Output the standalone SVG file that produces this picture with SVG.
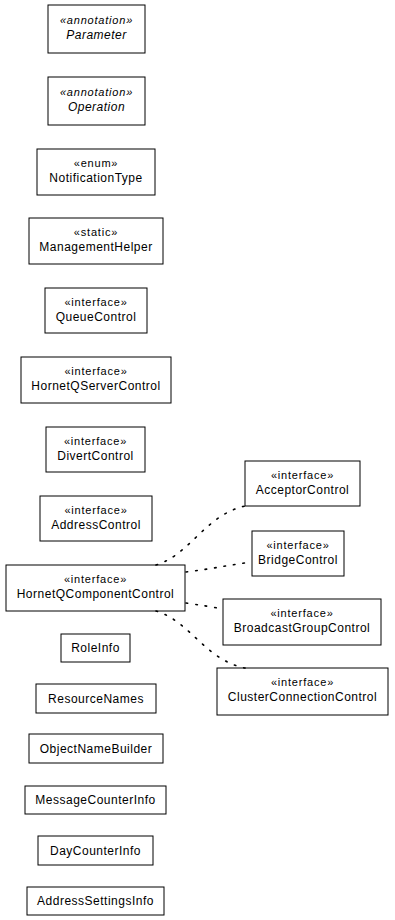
<svg xmlns="http://www.w3.org/2000/svg" width="395" height="920" viewBox="0 0 395 920">
<style>
rect{fill:#fff;stroke:#000;stroke-width:1}
text{font-family:"Liberation Sans",Arial,Helvetica,sans-serif;fill:#000;text-anchor:middle}
.n{font-size:12px;letter-spacing:0.5px}
.s{font-size:11px;letter-spacing:0.8px}
.i{font-style:italic}
.c path{fill:none;stroke:#000;stroke-width:1.6;stroke-dasharray:1.6,8;stroke-linecap:round}
</style>
<rect x="0" y="0" width="395" height="920" style="stroke:none"/>
<g id="Parameter"><rect x="48" y="5" width="97" height="48"/><text class="s i" x="96.5" y="24">«annotation»</text><text class="n i" x="96.5" y="39">Parameter</text></g>
<g id="Operation"><rect x="48" y="77" width="97" height="48"/><text class="s i" x="96.5" y="96">«annotation»</text><text class="n i" x="96.5" y="111">Operation</text></g>
<g id="NotificationType"><rect x="37" y="149" width="118" height="46"/><text class="s" x="96" y="167">«enum»</text><text class="n" x="96" y="182">NotificationType</text></g>
<g id="ManagementHelper"><rect x="29" y="218" width="134" height="46"/><text class="s" x="96" y="236">«static»</text><text class="n" x="96" y="251">ManagementHelper</text></g>
<g id="QueueControl"><rect x="45" y="288" width="102" height="45"/><text class="s" x="96" y="306">«interface»</text><text class="n" x="96" y="321">QueueControl</text></g>
<g id="HornetQServerControl"><rect x="21" y="357" width="150" height="46"/><text class="s" x="96" y="375">«interface»</text><text class="n" x="96" y="390">HornetQServerControl</text></g>
<g id="DivertControl"><rect x="46" y="427" width="99" height="45"/><text class="s" x="95.5" y="445">«interface»</text><text class="n" x="95.5" y="460">DivertControl</text></g>
<g id="AddressControl"><rect x="40" y="496" width="112" height="45"/><text class="s" x="96" y="514">«interface»</text><text class="n" x="96" y="529">AddressControl</text></g>
<g id="HornetQComponentControl"><rect x="6" y="565" width="179" height="46"/><text class="s" x="95.5" y="583">«interface»</text><text class="n" x="95.5" y="598">HornetQComponentControl</text></g>
<g id="RoleInfo"><rect x="61" y="634" width="69" height="28"/><text class="n" x="95.5" y="652">RoleInfo</text></g>
<g id="ResourceNames"><rect x="36" y="684" width="120" height="29"/><text class="n" x="96" y="703">ResourceNames</text></g>
<g id="ObjectNameBuilder"><rect x="29" y="734" width="134" height="29"/><text class="n" x="96" y="753">ObjectNameBuilder</text></g>
<g id="MessageCounterInfo"><rect x="25" y="786" width="141" height="28"/><text class="n" x="95.5" y="804">MessageCounterInfo</text></g>
<g id="DayCounterInfo"><rect x="38" y="836" width="115" height="29"/><text class="n" x="95.5" y="855">DayCounterInfo</text></g>
<g id="AddressSettingsInfo"><rect x="27" y="887" width="137" height="28"/><text class="n" x="95.5" y="905">AddressSettingsInfo</text></g>
<g id="AcceptorControl"><rect x="245" y="461" width="115" height="45"/><text class="s" x="302.5" y="479">«interface»</text><text class="n" x="302.5" y="494">AcceptorControl</text></g>
<g id="BridgeControl"><rect x="252" y="531" width="92" height="45"/><text class="s" x="298" y="549">«interface»</text><text class="n" x="298" y="564">BridgeControl</text></g>
<g id="BroadcastGroupControl"><rect x="223" y="599" width="158" height="46"/><text class="s" x="302" y="617">«interface»</text><text class="n" x="302" y="632">BroadcastGroupControl</text></g>
<g id="ClusterConnectionControl"><rect x="217" y="668" width="171" height="47"/><text class="s" x="302.5" y="686">«interface»</text><text class="n" x="302.5" y="701">ClusterConnectionControl</text></g>
<g id="connectors" class="c">
<path d="M156,565 C190,555 205,515 245,506"/>
<path d="M186,572 C210,569 230,565 252,562"/>
<path d="M186,603 C200,605 212,607 223,609"/>
<path d="M156,611 C190,621 205,660 245,668"/>
</g>
</svg>
